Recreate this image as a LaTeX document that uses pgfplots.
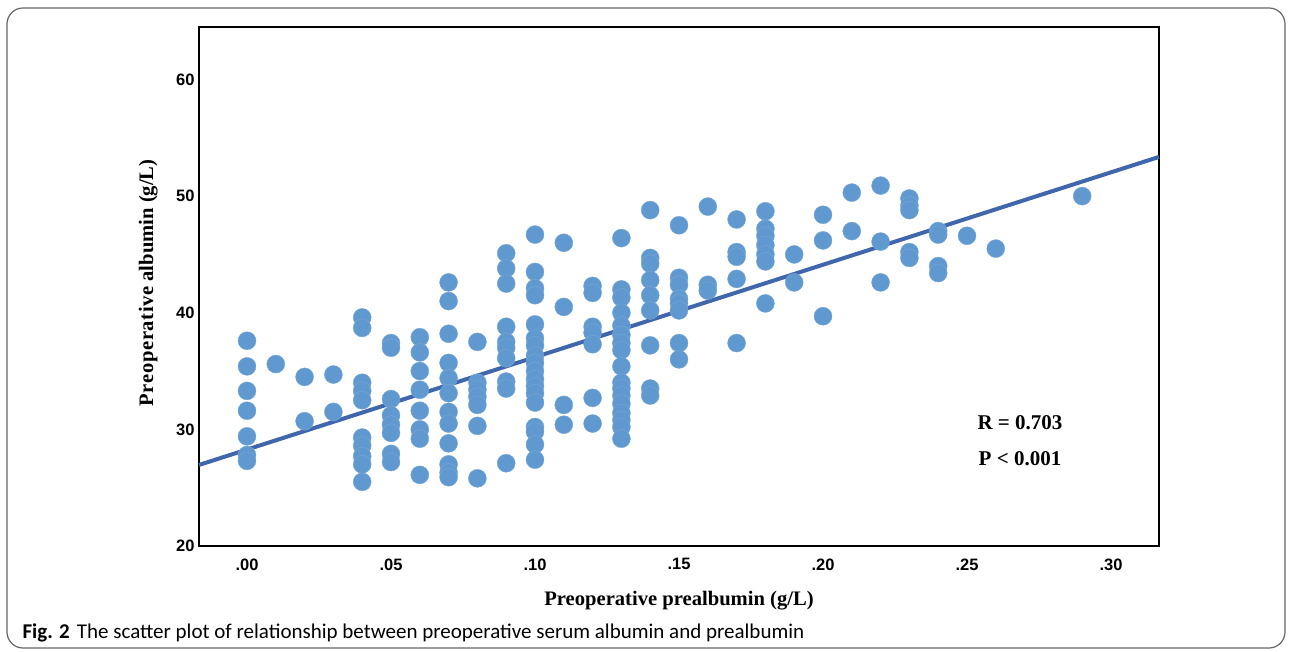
\documentclass[border=0pt]{standalone}
\usepackage{fontspec}
\setmainfont{Liberation Serif}
\setsansfont{Liberation Sans}
\newfontfamily\capfont{Carlito}
\usepackage{pgfplots}
\pgfplotsset{compat=1.18}
\definecolor{dotblue}{RGB}{96,153,208}
\definecolor{lineblue}{RGB}{64,102,172}
\begin{document}
\begin{tikzpicture}[x=1pt,y=1pt]
\useasboundingbox (0,0) rectangle (1292,651);
\draw[black!60, line width=1.2pt, rounded corners=16pt] (7,3) rectangle (1285,643);
\begin{axis}[
  at={(199pt,105pt)}, anchor=south west,
  scale only axis, width=960pt, height=519pt,
  xmin=-0.016667, xmax=0.316667, ymin=20, ymax=64.5,
  axis line style={line width=2.8pt},
  major tick length=0pt,
  xtick={0,0.05,0.10,0.15,0.20,0.25,0.30},
  xticklabels={.00,.05,.10,.15,.20,.25,.30},
  ytick={20,30,40,50,60},
  /pgf/number format/assume math mode=true,
  tick label style={font=\sffamily\bfseries\fontsize{16.5}{19}\selectfont},
  xticklabel style={yshift=-9pt},
  yticklabel style={xshift=-1pt},
  xlabel={Preoperative prealbumin (g/L)},
  ylabel={P\kern0.6pt r\kern0.6pt e\kern0.6pt o\kern0.6pt p\kern0.6pt e\kern0.6pt r\kern0.6pt a\kern0.6pt t\kern0.6pt i\kern0.6pt v\kern0.6pt e albumin (g/L)},
  label style={font=\bfseries\fontsize{20.6}{24}\selectfont},
  xlabel style={at={(axis description cs:0.5,-0.106)}, anchor=center},
  ylabel style={at={(axis description cs:-0.053,0.507)}, anchor=center, rotate=0},
  clip=false,
]
\addplot[only marks, mark=*, mark size=9pt, mark options={fill=dotblue, draw=dotblue!85!white, line width=0.4pt}] coordinates {
(0.00,37.6) (0.00,35.4) (0.00,33.3) (0.00,31.6) (0.00,29.4) (0.00,27.8) (0.00,27.3)
(0.01,35.6)
(0.02,34.5) (0.02,30.7)
(0.03,34.7) (0.03,31.5)
(0.04,39.6) (0.04,38.7) (0.04,34.0) (0.04,33.3) (0.04,32.5) (0.04,29.3) (0.04,28.6) (0.04,27.7) (0.04,27.0) (0.04,25.5)
(0.05,37.4) (0.05,37.0) (0.05,32.6) (0.05,31.2) (0.05,30.4) (0.05,29.7) (0.05,27.9) (0.05,27.2)
(0.06,37.9) (0.06,36.6) (0.06,35.0) (0.06,33.4) (0.06,31.6) (0.06,30.0) (0.06,29.2) (0.06,26.1)
(0.07,42.6) (0.07,41.0) (0.07,38.2) (0.07,35.7) (0.07,34.4) (0.07,33.1) (0.07,31.5) (0.07,30.5) (0.07,28.8) (0.07,27.0) (0.07,26.3) (0.07,25.9)
(0.08,37.5) (0.08,34.0) (0.08,33.4) (0.08,32.8) (0.08,32.1) (0.08,30.3) (0.08,25.8)
(0.09,45.1) (0.09,43.8) (0.09,42.5) (0.09,38.8) (0.09,37.5) (0.09,37.0) (0.09,36.1) (0.09,34.1) (0.09,33.5) (0.09,27.1)
(0.10,46.7) (0.10,43.5) (0.10,42.1) (0.10,41.5) (0.10,39.0) (0.10,37.8) (0.10,37.2) (0.10,36.3) (0.10,35.7) (0.10,35.0) (0.10,34.3) (0.10,33.7) (0.10,33.1) (0.10,32.3) (0.10,30.2) (0.10,29.8) (0.10,28.7) (0.10,27.4)
(0.11,46.0) (0.11,40.5) (0.11,32.1) (0.11,30.4)
(0.12,42.3) (0.12,41.7) (0.12,38.8) (0.12,38.3) (0.12,37.3) (0.12,32.7) (0.12,30.5)
(0.13,46.4) (0.13,42.0) (0.13,41.3) (0.13,40.0) (0.13,38.9) (0.13,38.1) (0.13,37.4) (0.13,36.8) (0.13,35.4) (0.13,34.0) (0.13,33.5) (0.13,32.9) (0.13,32.2) (0.13,31.4) (0.13,30.8) (0.13,30.2) (0.13,29.2)
(0.14,48.8) (0.14,44.7) (0.14,44.2) (0.14,42.8) (0.14,41.5) (0.14,40.2) (0.14,37.2) (0.14,33.5) (0.14,32.9)
(0.15,47.5) (0.15,43.0) (0.15,42.4) (0.15,41.2) (0.15,40.8) (0.15,40.2) (0.15,37.4) (0.15,36.0)
(0.16,49.1) (0.16,42.4) (0.16,41.9)
(0.17,48.0) (0.17,45.2) (0.17,44.8) (0.17,42.9) (0.17,37.4)
(0.18,48.7) (0.18,47.2) (0.18,46.6) (0.18,45.8) (0.18,45.0) (0.18,44.4) (0.18,40.8)
(0.19,45.0) (0.19,42.6)
(0.20,48.4) (0.20,46.2) (0.20,39.7)
(0.21,50.3) (0.21,47.0)
(0.22,50.9) (0.22,46.1) (0.22,42.6)
(0.23,49.8) (0.23,49.2) (0.23,48.8) (0.23,45.2) (0.23,44.7)
(0.24,47.0) (0.24,46.7) (0.24,44.0) (0.24,43.4)
(0.25,46.6)
(0.26,45.5)
(0.29,50.0)
};
\addplot[lineblue, line width=4pt] coordinates {(-0.016667,26.95) (0.316667,53.36)};
\node[font=\bfseries\fontsize{21}{24}\selectfont] at (axis cs:0.2684,30.55) {R = 0.703};
\node[font=\bfseries\fontsize{21}{24}\selectfont] at (axis cs:0.2684,27.46) {P {\textless} 0.001};
\end{axis}
\node[anchor=west, font=\capfont\fontsize{21}{24}\selectfont] at (19,18) {\textbf{Fig. 2}\hspace{7pt}The scatter plot of relationship between preoperative serum albumin and prealbumin};
\end{tikzpicture}
\end{document}
